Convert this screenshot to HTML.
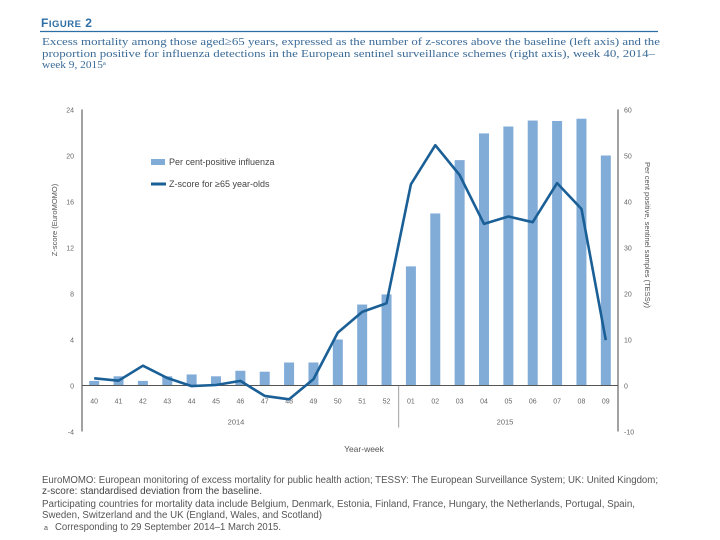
<!DOCTYPE html>
<html><head><meta charset="utf-8"><style>
body{margin:0;background:#fff}
svg{display:block}
</style></head><body>
<svg id="chart" width="720" height="540" xmlns="http://www.w3.org/2000/svg" font-family="Liberation Sans, sans-serif">
<text x="41" y="27" font-size="12" font-weight="bold" fill="#2c6ea6" letter-spacing="0.5">F<tspan font-size="9.5">IGURE</tspan> 2</text>
<line x1="40" y1="31.5" x2="658" y2="31.5" stroke="#2c6ea6" stroke-width="1.2"/>
<g font-family="Liberation Serif, serif" font-size="11" fill="#3a6a96">
<text x="42" y="45" textLength="618" lengthAdjust="spacingAndGlyphs">Excess mortality among those aged≥65 years, expressed as the number of z-scores above the baseline (left axis) and the</text>
<text x="42" y="57" textLength="613" lengthAdjust="spacingAndGlyphs">proportion positive for influenza detections in the European sentinel surveillance schemes (right axis), week 40, 2014–</text>
<text x="42" y="68" textLength="64" lengthAdjust="spacingAndGlyphs">week 9, 2015ᵃ</text>
</g>
<g id="plot"></g>
<g>
<rect x="151" y="159" width="14" height="6" fill="#82acd8"/>
<text x="169" y="165" font-size="9" fill="#444">Per cent-positive influenza</text>
<line x1="151" y1="184" x2="166" y2="184" stroke="#1a5f96" stroke-width="3"/>
<text x="169" y="187" font-size="9" fill="#444">Z-score for ≥65 year-olds</text>
</g>
<text transform="translate(57,220) rotate(-90)" text-anchor="middle" font-size="7.5" fill="#555">Z-score (EuroMOMO)</text>
<text transform="translate(645,235) rotate(90)" text-anchor="middle" font-size="7.5" fill="#555">Per cent positive, sentinel samples (TESSy)</text>
<text x="364" y="452" text-anchor="middle" font-size="8.5" fill="#555">Year-week</text>
<g font-size="10" fill="#555">
<text x="42" y="483" textLength="616" lengthAdjust="spacingAndGlyphs">EuroMOMO: European monitoring of excess mortality for public health action; TESSY: The European Surveillance System; UK: United Kingdom;</text>
<text x="42" y="494" textLength="220" lengthAdjust="spacingAndGlyphs" fill="#444">z-score: standardised deviation from the baseline.</text>
<text x="42" y="507" textLength="593" lengthAdjust="spacingAndGlyphs">Participating countries for mortality data include Belgium, Denmark, Estonia, Finland, France, Hungary, the Netherlands, Portugal, Spain,</text>
<text x="42" y="518" textLength="280" lengthAdjust="spacingAndGlyphs">Sweden, Switzerland and the UK (England, Wales, and Scotland)</text>
<text x="44" y="530" font-size="7">a</text>
<text x="55" y="530" textLength="226" lengthAdjust="spacingAndGlyphs">Corresponding to 29 September 2014–1 March 2015.</text>
</g>
</svg>
<script>
const weeks=["40","41","42","43","44","45","46","47","48","49","50","51","52","01","02","03","04","05","06","07","08","09"];
const percentPositive=[1,2,1,2,2.4,2,3.2,3,5,5,10,17.6,19.8,25.9,37.4,49,54.8,56.3,57.6,57.5,58,50];
const zScores=[0.63,0.42,1.72,0.65,-0.05,0.04,0.4,-0.9,-1.2,0.56,4.6,6.4,7.15,17.5,20.9,18.3,14.05,14.7,14.2,17.6,15.35,3.95];
const leftTicks=[-4,0,4,8,12,16,20,24];
const rightTicks=[-10,0,10,20,30,40,50,60];

const NS="http://www.w3.org/2000/svg";
const g=document.getElementById('plot');
const X0=82,X1=618,Y0=385.5;
const step=(X1-X0)/weeks.length;
const xc=i=>X0+step*(i+0.5);
const yL=v=>Y0-v*11.5;
const yR=v=>Y0-v*4.6;
function mk(t,a){const e=document.createElementNS(NS,t);for(const k in a)e.setAttribute(k,a[k]);g.appendChild(e);return e;}

percentPositive.forEach((v,i)=>{
  const r=mk('rect',{x:xc(i)-5,y:yR(v),width:10,height:Y0-yR(v),fill:'#82acd8'});
  
  
});
const la=mk('line',{x1:X0,y1:yL(24),x2:X0,y2:yL(-4),stroke:'#444','stroke-width':1});


const ra=mk('line',{x1:X1,y1:yR(60),x2:X1,y2:yR(-10),stroke:'#444','stroke-width':1});


const za=mk('line',{x1:X0,y1:Y0,x2:X1,y2:Y0,stroke:'#555','stroke-width':1});


const sep=mk('line',{x1:X0+step*13,y1:Y0,x2:X0+step*13,y2:Y0+42,stroke:'#888','stroke-width':0.8});



leftTicks.forEach(v=>{
  const t=mk('text',{x:74,y:yL(v)+3,'text-anchor':'end','font-size':7,fill:'#666'});t.textContent=v;
  
  
});
rightTicks.forEach(v=>{
  const t=mk('text',{x:624,y:yR(v)+3,'font-size':7,fill:'#666'});t.textContent=v;
  
  
});
weeks.forEach((w,i)=>{
  const t=mk('text',{x:xc(i),y:Y0+18,'text-anchor':'middle','font-size':7,fill:'#666'});t.textContent=w;
  
  
});
[["2014",236],["2015",505]].forEach(([s,x])=>{
  const t=mk('text',{x:x,y:Y0+39,'text-anchor':'middle','font-size':7.5,fill:'#666'});t.textContent=s;
  
  
});
const pts=zScores.map((v,i)=>xc(i).toFixed(1)+','+yL(v).toFixed(1)).join(' ');
const pl=mk('polyline',{points:pts,fill:'none',stroke:'#1a5f96','stroke-width':2.6,'stroke-linejoin':'round'});


</script>
</body></html>
